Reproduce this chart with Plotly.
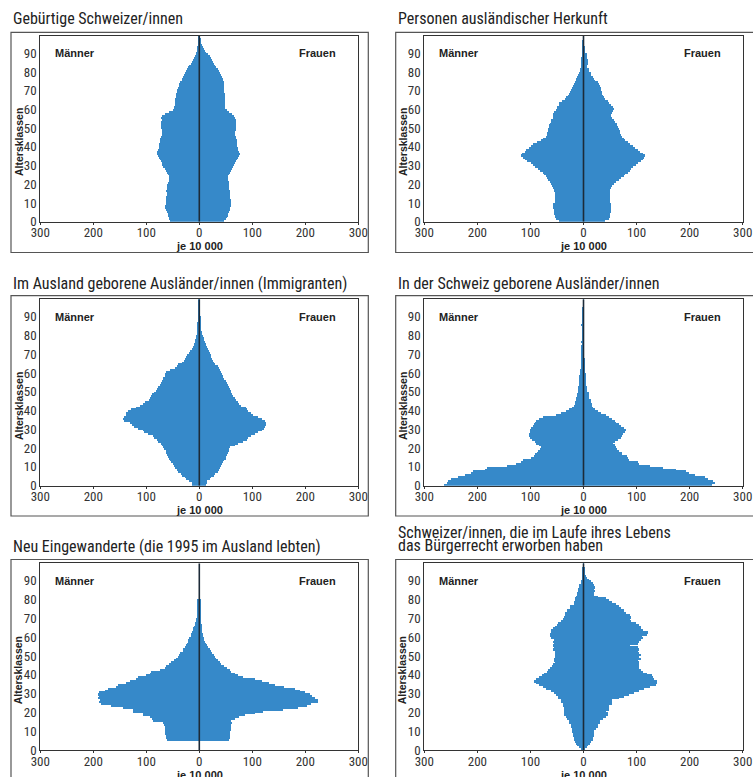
import plotly.graph_objects as go

W, H = 753, 777

ages = list(range(100))

# Gebürtige Schweizer/innen
m1 = [55,56,57,58,59,61,63,64,65,63, 62,62,63,62,61,61,62,61,61,60,
      58,57,57,56,56,58,61,63,65,67, 69,70,72,73,75,77,79,80,78,76,
      75,75,74,74,73,71,70,70,70,70, 71,71,71,71,70,71,69,64,57,50,
      48,47,46,46,45,45,44,44,43,42, 41,40,38,37,35,33,32,30,28,26,
      24,22,20,18,16,14,12,10,8,6, 5,4,3,2,1.5,1,1,0.5,0.3,0.2]
f1 = [48,50,52,54,55,56,58,59,60,61, 61,60,59,59,59,58,58,57,57,57,
      56,56,55,55,55,56,58,60,62,64, 66,68,70,72,74,76,77,76,74,73,
      72,72,72,71,70,69,68,68,68,69, 70,70,70,70,69,68,66,63,57,52,
      49,49,49,49,49,49,49,49,49,48, 48,48,48,47,47,46,45,44,42,40,
      38,35,33,31,29,27,25,22,20,17, 14,12,10,8,6,4,3,2,1,0.5]

# Personen ausländischer Herkunft
m2 = [46,52,54,54,55,55,55,56,57,56, 54,53,53,53,53,54,55,55,56,58,
      61,63,66,69,71,74,76,82,86,90, 95,98,106,110,114,117,115,110,107,102,
      99,94,87,80,76,70,68,68,67,66, 64,64,63,61,60,57,56,56,55,51,
      50,49,46,45,40,34,32,28,27,25, 23,22,19,18,16,14,13,11,9,8,
      6,6,5,5,5,5,4,4,3,3, 2,2,1,1,1,0.5,0.5,0.3,0.2,0.1]
f2 = [42,48,50,51,51,52,53,53,53,52, 51,50,50,50,50,50,50,51,53,54,
      58,62,68,71,76,78,84,88,91,94, 100,104,109,112,115,116,113,107,103,97,
      94,88,84,78,76,73,71,69,69,68, 65,64,63,60,58,54,53,53,54,57,
      58,56,52,48,46,42,40,37,36,35, 34,33,31,29,27,22,20,18,15,14,
      11,10,8,8,9,9,9,8,8,7, 4,4,2,2,1,1,0.5,0.3,0.2,0.1]

# Im Ausland geborene Ausländer/innen (Immigranten)
m3 = [13,14,18,24,27,32,34,39,41,45, 47,50,52,55,57,59,60,62,63,66,
      68,70,72,78,80,85,87,96,103,106, 115,123,127,131,141,144,141,138,137,134,
      128,119,112,105,101,94,92,90,89,85, 82,80,78,74,72,69,68,67,65,64,
      62,55,46,41,39,33,28,26,24,23, 19,17,14,12,10,10,8,8,6,6,
      4,4,3,3,3,2,2,1,1,1, 1,0.5,0.5,0.3,0.3,0.2,0.1,0.1,0.1,0.1]
f3 = [14,16,16,20,23,29,31,35,37,40, 42,44,46,48,50,51,53,54,56,57,
      58,67,74,83,90,92,99,105,112,118, 123,125,127,127,124,118,112,102,99,93,
      91,89,80,76,74,70,68,65,63,61, 60,58,57,55,53,50,48,46,45,44,
      42,40,37,35,31,29,26,24,23,22, 20,19,17,16,14,13,11,10,9,8,
      6,6,4,4,4,3,3,3,2,2, 1,1,0.5,0.5,0.3,0.2,0.1,0.1,0.1,0.1]

# In der Schweiz geborene Ausländer/innen
m4 = [263,257,254,250,235,222,212,208,186,182, 143,127,117,113,99,92,90,87,85,81,
      79,84,89,91,96,101,103,102,101,100, 98,94,92,90,89,83,76,52,42,33,
      26,21,18,16,15,13,13,11,11,10, 9,9,9,8,8,7,7,7,7,6,
      6,6,5,5,5,5,5,4,4,4, 4,4,4,4,4,3,4,3,3,3,
      3,3,2,2,2,4,3,2,2,1, 1,1,1,0.5,0.5,0.3,0.2,0.1,0.1,0.1]
f4 = [242,248,245,235,229,210,200,194,175,150, 125,106,103,87,84,83,74,73,67,63,
      61,59,57,59,65,71,74,75,78,80, 76,71,68,62,59,54,49,43,33,27,
      23,18,16,16,14,14,11,11,10,10, 8,8,8,6,6,6,5,5,5,5,
      3,3,3,2,2,2,2,2,1,1, 1,1,1,1,1,1,1,1,1,1,
      1,1,1,1,1,0.5,0.5,0.5,0.5,0.5, 0.3,0.3,0.2,0.2,0.1,0.1,0.1,0,0,0]

# Neu Eingewanderte (die 1995 im Ausland lebten)
m5 = [0,0,0,0,0,60,62,62,64,64, 65,65,65,66,68,87,89,93,106,106,
      125,125,144,166,185,188,186,191,188,191, 188,178,172,156,153,137,131,118,115,100,
      93,90,74,65,62,57,52,47,43,40, 37,35,31,30,27,25,23,21,20,18,
      16,15,13,12,11,10,8,7,6,5, 4,4,4,3,3,3,2,2,2,2,
      0,0,0,0,0,0,0,0,0,0, 0,0,0,0,0,0,0,0,0,0]
f5 = [0,0,0,0,0,56,58,58,59,59, 60,60,60,61,62,61,67,76,86,105,
      121,159,187,203,212,225,225,218,214,209, 200,190,181,161,143,132,118,105,83,74,
      67,61,58,52,47,42,39,36,33,30, 28,25,22,20,17,15,13,11,9,9,
      8,8,6,6,5,5,5,4,4,4, 3,3,3,3,3,2,2,2,2,2,
      0,0,0,0,0,0,0,0,0,0, 0,0,0,0,0,0,0,0,0,0]

# Schweizer/innen, die im Laufe ihres Lebens das Bürgerrecht erworben haben
m6 = [4,8,11,14,16,18,18,20,20,21, 21,21,23,23,26,26,30,33,37,37,
      37,37,37,39,39,42,42,47,47,52, 55,61,71,75,83,89,92,89,83,77,
      74,69,66,62,59,56,53,55,55,53, 53,53,53,56,55,56,55,57,55,61,
      62,62,61,61,56,53,50,47,42,39, 37,35,35,31,31,25,25,18,18,16,
      16,14,11,11,9,9,7,7,4,4, 3,3,1,1,1,0.5,0.5,0.3,0.2,0.1]
f6 = [3,7,9,13,14,18,18,20,20,21, 21,24,27,27,32,32,38,43,47,47,
      43,49,49,49,55,55,55,68,76,87, 96,106,115,125,137,140,140,134,131,130,
      121,112,109,106,106,106,106,104,108,106, 108,106,104,106,103,89,103,106,109,112,
      111,121,123,112,108,109,106,100,90,89, 90,89,81,77,76,71,68,62,55,49,
      43,28,21,21,22,21,22,21,18,14, 11,8,6,4,4,2,2,1,0.5,0.3]

titles = [
    ["Gebürtige Schweizer/innen"],
    ["Personen ausländischer Herkunft"],
    ["Im Ausland geborene Ausländer/innen (Immigranten)"],
    ["In der Schweiz geborene Ausländer/innen"],
    ["Neu Eingewanderte (die 1995 im Ausland lebten)"],
    ["Schweizer/innen, die im Laufe ihres Lebens", "das Bürgerrecht erworben haben"],
]
men = [m1, m2, m3, m4, m5, m6]
women = [f1, f2, f3, f4, f5, f6]

xtickvals = [-300, -200, -100, 0, 100, 200, 300]
xticktext = ["300", "200", "100", "0", "100", "200", "300"]
ytickvals = [0, 10, 20, 30, 40, 50, 60, 70, 80, 90]
label_men, label_women = "Männer", "Frauen"
label_x, label_y = "je 10 000", "Altersklassen"

BAR = "#3689C9"
COND = "Roboto Condensed, Liberation Sans Narrow, Liberation Sans, sans-serif"
BOLD = "Liberation Sans, Arial, sans-serif"

# layout (pixels)
plot_l = [40.3, 424.3]
plot_r = [358.3, 742.7]
plot_t = [36.0, 299.3, 563.3]
plot_b = [221.7, 485.7, 750.0]
box_l = [11, 395.7]
box_r = [368.3, 770]
box_t = [32.3, 295.7, 559.5]
box_b = [252.5, 516, 800]
title_y = [[19], [19], [283], [283], [546], [532, 545.5]]


def px(x):
    return x / W


def py(y):
    return 1 - y / H


fig = go.Figure()
annotations = []
shapes = []
for i in range(6):
    col, row = i % 2, i // 2
    n = i + 1
    xa = "x" if n == 1 else f"x{n}"
    ya = "y" if n == 1 else f"y{n}"
    fig.add_trace(go.Bar(y=ages, x=[-v for v in men[i]], orientation="h", width=1, offset=0,
                         marker=dict(color=BAR, line=dict(width=0)), xaxis=xa, yaxis=ya,
                         showlegend=False, hoverinfo="skip"))
    fig.add_trace(go.Bar(y=ages, x=women[i], orientation="h", width=1, offset=0,
                         marker=dict(color=BAR, line=dict(width=0)), xaxis=xa, yaxis=ya,
                         showlegend=False, hoverinfo="skip"))
    axkw = dict(showline=True, mirror=True, linecolor="#333", linewidth=1, showgrid=False,
                zeroline=False, tickcolor="#333", automargin=False, ticklabeloverflow="allow",
                tickfont=dict(family=COND, size=13, color="#333"))
    fig.layout[("xaxis" if n == 1 else f"xaxis{n}")] = dict(
        domain=[px(plot_l[col]), px(plot_r[col])], range=[-300, 300], anchor=ya,
        tickvals=xtickvals, ticktext=xticktext, ticks="outside", ticklen=2,
        ticklabelstandoff=-3, **axkw)
    fig.layout[("yaxis" if n == 1 else f"yaxis{n}")] = dict(
        domain=[py(plot_b[row]), py(plot_t[row])], range=[0, 99.3], anchor=xa,
        tickvals=ytickvals, ticks="", **axkw)
    shapes.append(dict(type="line", xref=xa, yref=ya, x0=0, x1=0, y0=0, y1=99.3,
                       line=dict(color="#1d2b38", width=1.6)))
    shapes.append(dict(type="rect", xref="paper", yref="paper",
                       x0=px(box_l[col]), x1=px(box_r[col]), y0=py(box_b[row]), y1=py(box_t[row]),
                       line=dict(color="#555", width=1.2)))
    for k, t in enumerate(titles[i]):
        annotations.append(dict(text=t, xref="paper", yref="paper", x=px(box_l[col]),
                                y=py(title_y[i][k]), xanchor="left", yanchor="middle",
                                showarrow=False, font=dict(family=COND, size=16, color="#222")))
    annotations.append(dict(text=f"<b>{label_men}</b>", xref="paper", yref=ya,
                            x=px(plot_l[col] + 13), y=90, xanchor="left", yanchor="middle",
                            showarrow=False, font=dict(family=BOLD, size=11, color="#222")))
    annotations.append(dict(text=f"<b>{label_women}</b>", xref="paper", yref=ya,
                            x=px(plot_r[col] - 20), y=90, xanchor="right", yanchor="middle",
                            showarrow=False, font=dict(family=BOLD, size=11, color="#222")))
    annotations.append(dict(text=f"<b>{label_x}</b>", xref="paper", yref="paper",
                            x=px((plot_l[col] + plot_r[col]) / 2), y=py(plot_b[row] + 24.5),
                            xanchor="center", yanchor="middle",
                            showarrow=False, font=dict(family=BOLD, size=11, color="#222")))
    annotations.append(dict(text=f"<b>{label_y}</b>", xref="paper", yref="paper",
                            x=px(plot_l[col] - 22), y=py(plot_b[row] - 80), textangle=-90,
                            xanchor="center", yanchor="middle",
                            showarrow=False, font=dict(family=BOLD, size=10.5, color="#222")))

fig.update_layout(width=W, height=H, margin=dict(l=0, r=0, t=0, b=0), barmode="overlay",
                  bargap=0, paper_bgcolor="white", plot_bgcolor="white",
                  annotations=annotations, shapes=shapes)
fig.write_html("out.html")
